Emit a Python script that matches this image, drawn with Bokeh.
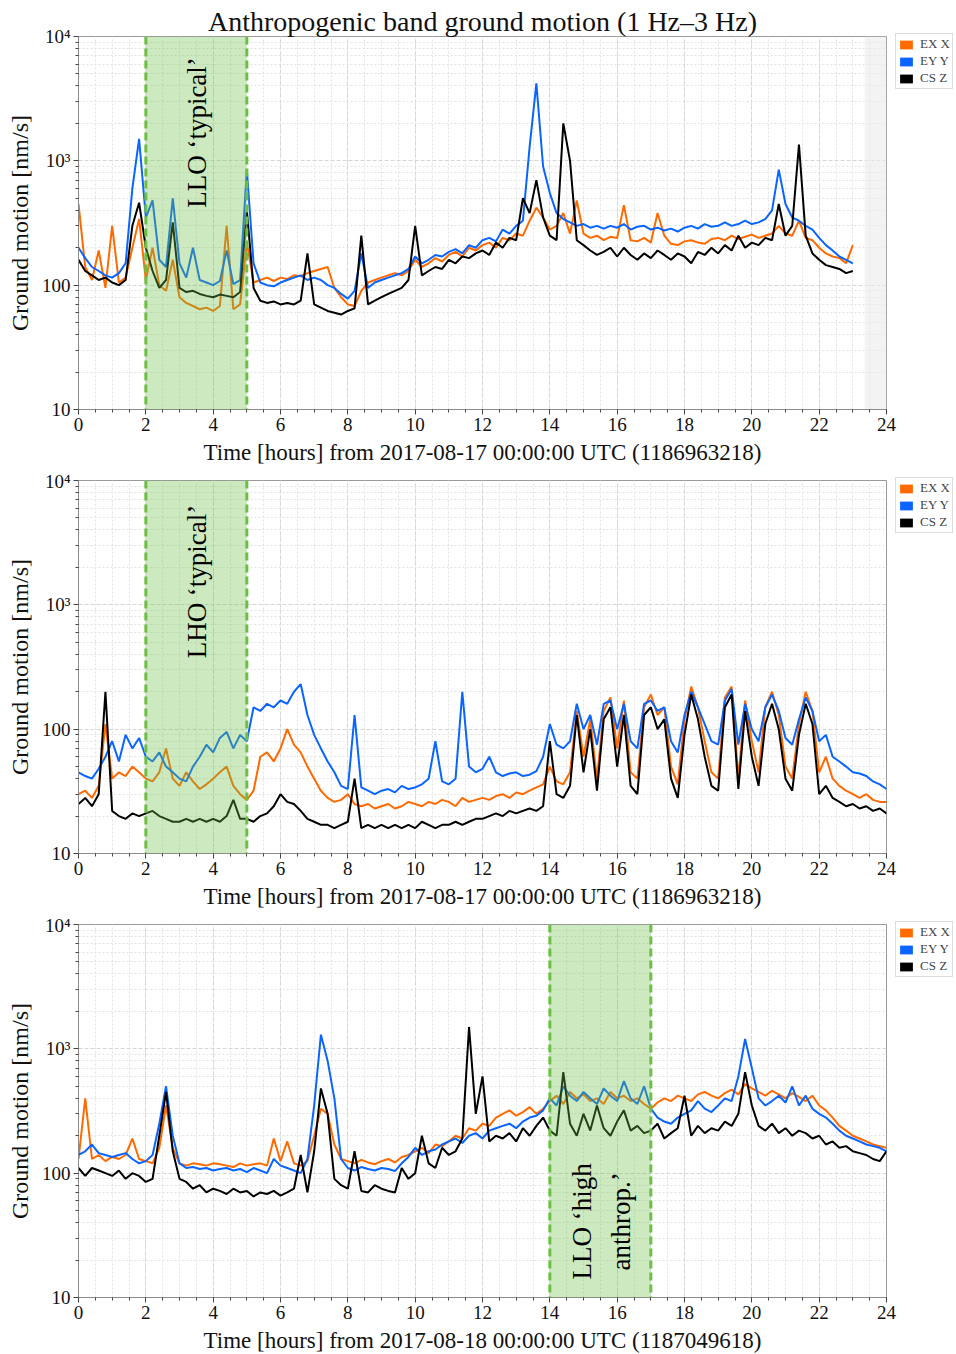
from math import pi
from bokeh.plotting import figure
from bokeh.layouts import column
from bokeh.models import (Range1d, SingleIntervalTicker, FixedTicker, CustomJSTickFormatter,
                          BoxAnnotation, Span, Label, Legend, LegendItem)
from bokeh.embed import file_html
from bokeh.resources import INLINE

# ---------------- data (ground motion in nm/s, sampled every 0.2 h) ----------------
STEP_H = 0.2
series_names = ["EX X", "EY Y", "CS Z"]
series_colors = ["#ff6a00", "#0a64ff", "#000000"]

# Panel 1: LLO, 2017-08-17 (data to 23.0 h)
llo17_ex = [450,140,110,190,95,300,105,115,200,340,
            110,200,100,90,160,80,72,68,64,66,
            62,68,300,64,70,220,105,110,115,108,
            115,112,120,118,125,130,135,140,95,80,
            70,68,90,105,110,115,120,125,120,130,
            160,140,150,165,155,175,185,170,200,190,
            210,220,200,240,230,260,250,330,420,350,
            280,300,380,260,480,260,240,250,230,245,
            240,440,230,225,240,220,380,250,215,210,
            225,230,220,215,235,240,230,250,235,245,
            255,240,250,260,300,260,250,330,240,230,
            200,180,170,165,150,210]
llo17_ey = [200,165,140,130,120,115,125,150,600,1500,
            350,480,160,140,500,150,115,200,110,105,
            100,108,190,102,110,850,150,105,100,98,
            105,110,115,120,110,115,110,100,95,85,
            78,90,180,95,105,110,115,120,125,135,
            170,150,160,175,170,185,195,180,210,200,
            230,240,225,280,260,300,330,1300,4200,900,
            550,380,340,320,300,310,290,300,285,300,
            290,310,280,295,300,280,290,275,285,270,
            290,300,285,310,295,300,320,300,310,330,
            310,320,340,400,850,450,350,330,300,280,
            240,210,190,170,160,150]
llo17_cs = [160,130,120,110,115,105,100,110,300,460,
            200,130,95,110,320,95,88,90,85,82,
            80,84,82,80,88,400,95,75,72,74,
            70,72,70,75,180,70,66,62,60,58,
            62,65,250,70,75,80,85,90,95,110,
            300,120,130,140,135,160,150,170,165,180,
            190,175,220,200,240,230,500,380,700,350,
            250,230,2000,1000,230,210,190,175,185,200,
            170,200,175,160,180,165,190,175,160,180,
            170,150,185,175,200,180,210,190,250,200,
            220,210,240,230,450,250,300,1350,250,180,
            160,145,140,135,125,130]

# Panel 2: LHO, 2017-08-17
lho17_ex = [30,32,28,35,110,40,45,42,50,45,
            40,38,45,70,40,35,45,38,33,36,
            40,45,50,35,30,27,32,60,65,55,
            70,100,75,65,50,40,32,28,26,27,
            30,25,24,25,23,24,25,23,24,26,
            25,24,26,25,27,26,24,28,26,27,
            28,27,29,30,28,31,30,32,34,36,
            50,38,36,45,140,60,120,40,140,180,
            70,170,45,40,150,190,130,150,50,36,
            120,220,150,80,45,40,180,220,40,170,
            80,45,150,200,130,50,40,110,200,140,
            45,60,40,35,32,30,28,30,27,26,
            26]
lho17_ey = [45,42,40,48,60,80,55,90,70,85,
            60,55,65,50,45,40,38,50,60,75,
            65,85,95,70,90,80,150,140,160,150,
            170,160,200,230,130,90,70,55,45,35,
            33,130,34,32,30,32,33,31,35,33,
            34,36,40,80,38,36,40,200,50,45,
            48,60,45,42,44,45,42,43,46,60,
            110,75,70,80,160,100,130,75,160,170,
            100,160,80,70,160,170,140,150,80,65,
            130,200,150,110,80,75,170,210,75,160,
            100,80,150,190,140,85,75,120,180,140,
            80,90,60,55,50,45,44,42,38,36,
            33]
lho17_cs = [25,28,24,30,200,22,20,19,21,20,
            21,22,20,19,18,18,19,18,19,18,
            19,18,20,27,19,19,18,20,21,24,
            30,26,25,22,19,18,17,17,16,17,
            18,40,16,17,16,17,16,17,16,17,
            16,18,17,16,17,17,18,17,18,19,
            19,20,21,20,22,21,22,23,22,24,
            80,30,28,35,130,45,100,32,120,150,
            50,130,35,30,130,150,100,120,40,28,
            90,190,120,60,35,32,150,190,33,140,
            60,35,110,160,100,40,32,90,160,110,
            30,35,28,26,24,25,23,24,22,23,
            21]

# Panel 3: LLO, 2017-08-18
llo18_ex = [130,400,130,140,125,135,130,140,190,130,
            125,120,160,350,160,120,115,120,118,115,
            120,118,115,112,120,115,118,120,115,190,
            125,180,120,115,125,200,330,300,170,130,
            125,120,128,122,118,125,130,122,135,140,
            150,160,145,170,165,180,200,190,230,220,
            250,240,280,300,320,290,310,340,300,330,
            380,420,360,450,400,430,380,400,360,450,
            400,420,380,400,360,330,370,400,380,420,
            400,380,430,450,420,400,440,470,430,520,
            480,450,420,460,430,400,440,410,380,420,
            350,320,280,240,220,200,190,180,170,165,
            160]
llo18_ey = [140,150,170,145,140,135,140,145,130,120,
            125,140,250,500,200,120,110,112,108,110,
            105,108,110,105,108,102,110,105,100,130,
            115,110,105,100,130,350,1300,800,400,130,
            110,105,112,108,105,110,108,104,120,135,
            160,140,150,155,170,180,190,175,200,210,
            190,220,230,240,250,230,260,280,290,320,
            400,350,500,420,380,450,400,360,480,420,
            380,550,400,360,500,330,280,260,250,280,
            300,320,380,330,310,350,400,380,600,1200,
            700,400,350,380,420,370,500,350,420,330,
            300,280,250,220,200,190,180,170,165,160,
            150]
llo18_cs = [110,95,110,105,100,95,105,90,100,95,
            85,90,200,450,150,90,85,75,80,70,
            75,72,68,75,70,72,65,70,68,72,
            66,70,75,140,70,150,480,300,90,80,
            75,150,72,70,80,75,72,70,110,90,
            100,200,120,110,160,140,150,190,1500,300,
            600,180,200,190,210,180,230,200,240,280,
            220,200,650,250,200,300,220,350,230,200,
            260,320,220,240,210,220,250,190,210,230,
            420,200,240,210,230,220,260,240,300,650,
            350,240,220,250,210,230,200,220,210,190,
            200,170,180,160,165,150,145,140,130,125,
            150]

xlabel_17 = "Time [hours] from 2017-08-17 00:00:00 UTC (1186963218)"
xlabel_18 = "Time [hours] from 2017-08-18 00:00:00 UTC (1187049618)"
ylabel = "Ground motion [nm/s]"
title_text = "Anthropogenic band ground motion (1 Hz\u20133 Hz)"

SERIF = "Liberation Serif"
GREEN = "#6dbe45"


def make_fig(values, xlabel, title=None, top=10, bottom=61, band=None, labels=(), gray=None):
    p = figure(frame_width=808, frame_height=373,
               x_range=Range1d(0, 24), y_range=Range1d(10, 10000), y_axis_type="log",
               output_backend="svg", toolbar_location=None,
               min_border_left=78, min_border_right=70,
               min_border_top=top, min_border_bottom=bottom, title=title)
    p.background_fill_color = "white"
    p.border_fill_color = "white"
    p.outline_line_color = "#9a9a9a"
    if title is not None:
        p.title.text_font = SERIF
        p.title.text_font_size = "28px"
        p.title.text_font_style = "normal"
        p.title.align = "center"
        p.title.text_color = "#111111"
        p.title.standoff = 0

    xt = SingleIntervalTicker(interval=2, num_minor_ticks=4)
    p.xaxis.ticker = xt
    p.xgrid.ticker = xt
    majors = [10, 100, 1000, 10000]
    minors = [m * 10 ** e for e in (1, 2, 3) for m in range(2, 10)]
    yt = FixedTicker(ticks=majors, minor_ticks=minors)
    p.yaxis.ticker = yt
    p.ygrid.ticker = yt
    p.yaxis.formatter = CustomJSTickFormatter(code="""
        const e = Math.round(Math.log10(tick));
        if (e == 4) return '10\u2074';
        if (e == 3) return '10\u00b3';
        return String(Math.round(tick));
    """)

    for ax in (p.xaxis[0], p.yaxis[0]):
        ax.axis_line_color = "#8a8a8a"
        ax.major_tick_line_color = "#444444"
        ax.minor_tick_line_color = "#444444"
        ax.major_tick_in = 0
        ax.major_tick_out = 5
        ax.minor_tick_in = 0
        ax.minor_tick_out = 3
        ax.major_label_text_font = SERIF
        ax.major_label_text_font_size = "19px"
        ax.major_label_text_color = "#111111"
        ax.major_label_standoff = 3
        ax.axis_label_text_font = SERIF
        ax.axis_label_text_font_style = "normal"
        ax.axis_label_text_color = "#111111"
        ax.axis_label_standoff = 6
    p.xaxis.axis_label_text_font_size = "23px"
    p.yaxis.axis_label_text_font_size = "24px"
    p.xaxis.axis_label = xlabel
    p.yaxis.axis_label = ylabel

    for g in (p.xgrid[0], p.ygrid[0]):
        g.grid_line_color = "#d6d6d6"
        g.grid_line_dash = "4 2"
        g.minor_grid_line_color = "#e2e2e2"
        g.minor_grid_line_dash = "2 2"

    if gray is not None:
        p.add_layout(BoxAnnotation(left=gray[0], right=gray[1], fill_color="#ebebeb",
                                   fill_alpha=0.6, line_alpha=0, level="underlay"))

    items = []
    for name, vals, col in zip(series_names, values, series_colors):
        xs = [i * STEP_H for i in range(len(vals))]
        p.line(xs, vals, line_color=col, line_width=2)
        # zero-area patch used only to give the legend a filled colour swatch
        swatch = p.quad(left=xs[:1], right=xs[:1], bottom=vals[:1], top=vals[:1],
                        fill_color=col, line_color=None)
        items.append(LegendItem(label=name, renderers=[swatch]))

    if band is not None:
        p.add_layout(BoxAnnotation(left=band[0], right=band[1], fill_color=GREEN,
                                   fill_alpha=0.34, line_alpha=0))
        for loc in band:
            p.add_layout(Span(location=loc, dimension="height", line_color=GREEN,
                              line_width=3, line_dash="8 4"))
    for (lx, ly, txt) in labels:
        p.add_layout(Label(x=lx, y=ly, text=txt, angle=pi / 2, text_align="center",
                           text_baseline="middle", text_font=SERIF, text_font_size="27px",
                           text_color="#000000"))

    leg = Legend(items=items, location=(9, 320), orientation="vertical",
                 label_text_font=SERIF, label_text_font_size="13px",
                 glyph_width=16, glyph_height=11, label_standoff=6, spacing=1,
                 padding=2, margin=0, border_line_color="#bbbbbb",
                 background_fill_color="white", background_fill_alpha=1.0,
                 label_height=12)
    p.add_layout(leg, "right")
    return p


p1 = make_fig([llo17_ex, llo17_ey, llo17_cs], xlabel_17, title=title_text, top=36, bottom=61,
              band=(2, 5), labels=[(3.52, 1690, "LLO \u2018typical\u2019")], gray=(23.35, 24))
p2 = make_fig([lho17_ex, lho17_ey, lho17_cs], xlabel_17, top=10, bottom=61,
              band=(2, 5), labels=[(3.52, 1540, "LHO \u2018typical\u2019")])
p3 = make_fig([llo18_ex, llo18_ey, llo18_cs], xlabel_18, top=10, bottom=57,
              band=(14, 17), labels=[(14.97, 41, "LLO \u2018high"), (16.1, 41, "anthrop.\u2019")])

layout = column(p1, p2, p3, spacing=0)
open("out.html", "w").write(file_html(layout, INLINE))
